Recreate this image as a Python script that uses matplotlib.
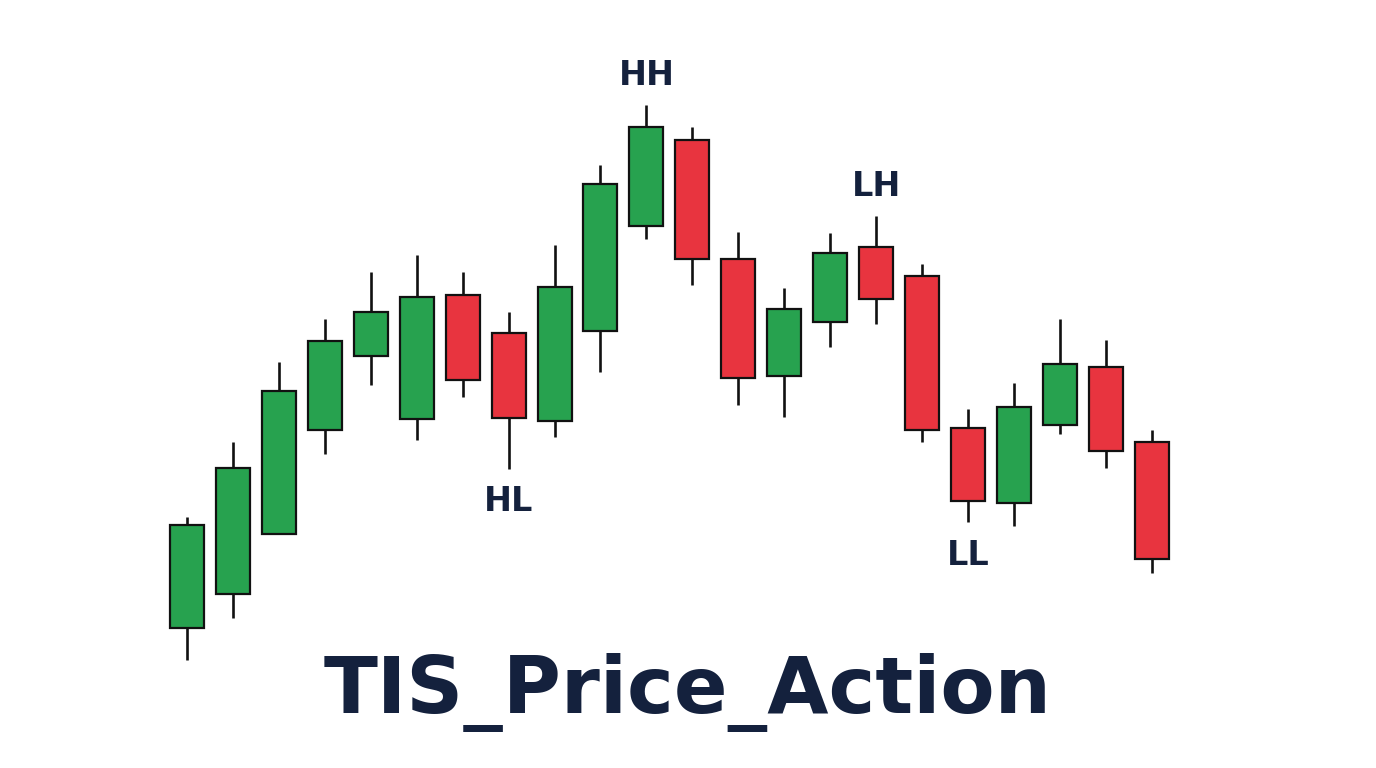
import numpy as np
import matplotlib
matplotlib.use("Agg")
from matplotlib import pyplot as plt
from matplotlib.patches import Rectangle

# candle data (arbitrary price units)
opens  = [97.2, 100.6, 106.6, 117.0, 124.4, 118.1, 130.5, 126.7, 117.9, 126.9, 137.4,
          146.0, 134.1, 122.4, 127.8, 135.3, 132.4, 117.2, 109.7, 117.5, 123.3, 115.8]
highs  = [108.3, 115.8, 123.8, 128.1, 132.8, 134.5, 132.8, 128.8, 135.5, 143.5, 149.5,
          147.3, 136.8, 131.2, 136.7, 138.4, 133.6, 119.1, 121.7, 128.1, 126.0, 117.0]
lows   = [94.0, 98.2, 106.6, 114.6, 121.5, 116.0, 120.3, 113.1, 116.3, 122.8, 136.1,
          131.5, 119.5, 118.3, 125.3, 127.6, 115.8, 107.8, 107.4, 116.6, 113.2, 102.7]
closes = [107.5, 113.2, 120.9, 125.9, 128.8, 130.3, 122.0, 118.2, 131.3, 141.6, 147.3,
          134.1, 122.2, 129.1, 134.7, 130.1, 117.0, 109.9, 119.3, 123.6, 114.9, 104.1]

# swing labels: text, candle index, price level
swing_labels = ["HH", "LH", "HL", "LL"]
swing_idx = [10, 15, 7, 17]
swing_price = [152.5, 141.4, 109.9, 104.5]

title = "TIS_Price_Action"

GREEN = '#27a24f'
RED = '#e8343f'
NAVY = '#14213d'

fig = plt.figure(figsize=(13.76, 7.68), dpi=100)
ax = fig.add_axes([0, 0, 1, 1])
ax.set_xlim(-4.07, 25.88)
ax.set_ylim(83.2, 160)
ax.axis('off')

width = 0.74
for i in range(len(opens)):
	o, h, l, c = opens[i], highs[i], lows[i], closes[i]
	col = GREEN if c >= o else RED
	# wick
	ax.vlines(i, l, h, color='#111111', linewidth=1.9, zorder=1)
	# body
	bottom = min(o, c)
	ax.add_patch(Rectangle((i - width / 2, bottom), width, abs(c - o),
			facecolor=col, edgecolor='#111111', linewidth=1.6, zorder=2))

for txt, i, p in zip(swing_labels, swing_idx, swing_price):
	ax.text(i, p, txt, ha='center', va='center', fontsize=24, fontweight='bold',
			family=['DejaVu Sans'], color=NAVY)

fig.text(0.5, 0.071, title, ha='center', va='baseline', fontsize=57, fontweight='bold',
		family=['DejaVu Sans'], color=NAVY)

plt.savefig('out.png', dpi=100)
